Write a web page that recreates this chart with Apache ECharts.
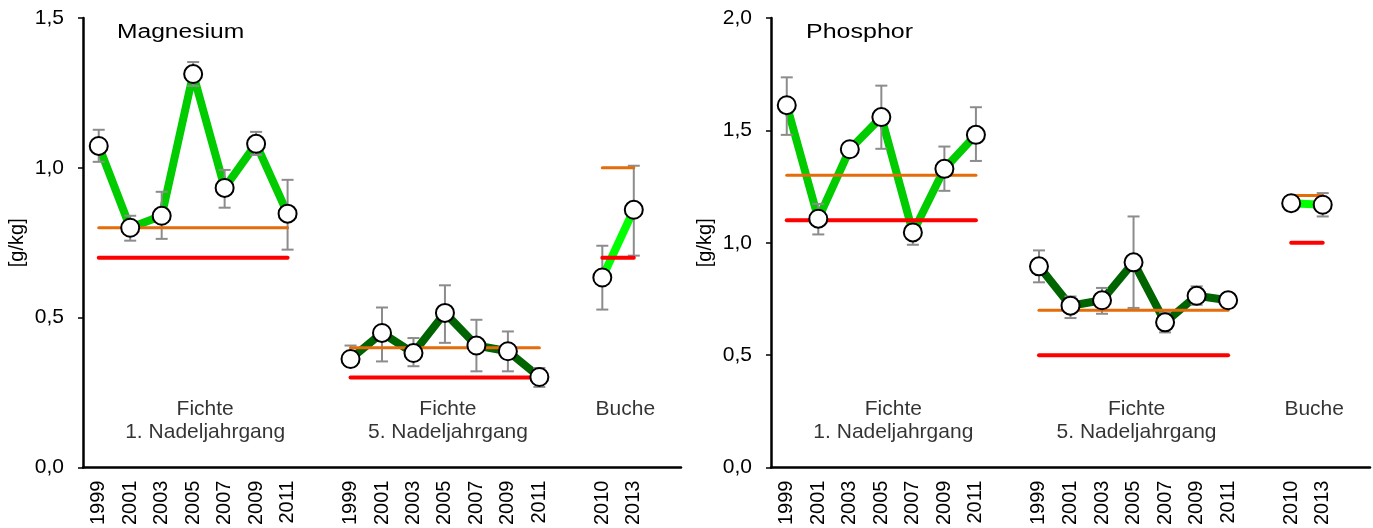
<!DOCTYPE html>
<html><head><meta charset="utf-8">
<script src="https://cdn.jsdelivr.net/npm/echarts@6/dist/echarts.min.js"></script>
<style>html,body{margin:0;padding:0;background:#fff}#c{width:1373px;height:528px}</style>
</head><body><div id="c"></div>
<script>
// ---- categories (19 slots: 7 + gap + 7 + gap + 2 + gap)
const yearsF = ['1999','2001','2003','2005','2007','2009','2011'];
const yearsB = ['2010','2013'];
const groupLabels = ['Fichte\n1. Nadeljahrgang', 'Fichte\n5. Nadeljahrgang', 'Buche'];
const panelTitles = ['Magnesium', 'Phosphor'];
const mgTicks = [0, 0.5, 1.0, 1.5];
const pTicks = [0, 0.5, 1.0, 1.5, 2.0];

// ---- Magnesium [g/kg]
const mgF1 = [1.073, 0.80, 0.84, 1.313, 0.933, 1.08, 0.847];
const mgF1Hi = [1.127, 0.84, 0.92, 1.353, 0.993, 1.12, 0.96];
const mgF1Lo = [1.02, 0.757, 0.763, 1.273, 0.867, 1.043, 0.727];
const mgF5 = [0.362, 0.449, 0.382, 0.516, 0.407, 0.388, 0.302];
const mgF5Hi = [0.407, 0.534, 0.432, 0.608, 0.493, 0.454, 0.332];
const mgF5Lo = [0.338, 0.354, 0.338, 0.416, 0.321, 0.321, 0.269];
const mgBu = [0.634, 0.86];
const mgBuHi = [0.74, 1.007];
const mgBuLo = [0.527, 0.707];
const mgOrange = [0.80, 0.40, 1.00];
const mgRed = [0.70, 0.30, 0.70];

// ---- Phosphor [g/kg]
const pF1 = [1.612, 1.107, 1.416, 1.559, 1.046, 1.329, 1.48];
const pF1Hi = [1.736, 1.173, 1.44, 1.699, 1.10, 1.428, 1.603];
const pF1Lo = [1.48, 1.037, 1.39, 1.418, 0.991, 1.231, 1.364];
const pF5 = [0.895, 0.72, 0.744, 0.913, 0.646, 0.764, 0.744];
const pF5Hi = [0.966, 0.761, 0.799, 1.117, 0.69, 0.806, 0.776];
const pF5Lo = [0.824, 0.665, 0.684, 0.71, 0.601, 0.724, 0.712];
const pBu = [1.176, 1.169];
const pBuHi = [1.19, 1.221];
const pBuLo = [1.16, 1.117];
const pOrange = [1.30, 0.70, 1.21];
const pRed = [1.10, 0.50, 1.00];

// ---- layout helpers
const OFF = [0, 8, 16];
const LABEL_IDX = [3, 11, 16];
const LABEL_DX = [12, 3, 23];
const cats = [...yearsF, '', ...yearsF, '', ...yearsB, ''];
const FONT = "'Liberation Sans', Arial, sans-serif";
const C_F1 = '#00cc00', C_F5 = '#006400', C_BU = '#00ff00';
const C_OR = '#e46c0a', C_RED = '#ff0000', C_ERR = '#8c8c8c';

function pts(vals, off) { return vals.map((v, i) => [off + i, v]); }
function errs(lo, hi, off) { return lo.map((l, i) => [off + i, l, hi[i]]); }

function panel(gi, groups, orange, red, labelY, buLabelY) {
  const s = [];
  const colors = [C_F1, C_F5, C_BU];
  groups.forEach((g, k) => {
    s.push({ type: 'line', xAxisIndex: gi, yAxisIndex: gi, data: pts(g.v, OFF[k]),
      showSymbol: false, symbol: 'none', z: 2, silent: true,
      lineStyle: { color: colors[k], width: 8, join: 'round' } });
    s.push({ type: 'custom', xAxisIndex: gi, yAxisIndex: gi, z: 3, silent: true,
      data: errs(g.lo, g.hi, OFF[k]), encode: { x: 0, y: [1, 2] },
      renderItem: function (params, api) {
        const x = api.value(0);
        const a = api.coord([x, api.value(1)]);
        const b = api.coord([x, api.value(2)]);
        const st = { stroke: C_ERR, lineWidth: 2 };
        return { type: 'group', children: [
          { type: 'line', shape: { x1: a[0], y1: a[1], x2: b[0], y2: b[1] }, style: st },
          { type: 'line', shape: { x1: a[0] - 6, y1: a[1], x2: a[0] + 6, y2: a[1] }, style: st },
          { type: 'line', shape: { x1: b[0] - 6, y1: b[1], x2: b[0] + 6, y2: b[1] }, style: st }
        ] };
      } });
    const n = g.v.length - 1;
    s.push({ type: 'line', xAxisIndex: gi, yAxisIndex: gi, z: 4, silent: true, symbol: 'none',
      data: [[OFF[k], orange[k]], [OFF[k] + n, orange[k]]],
      lineStyle: { color: C_OR, width: 3, cap: 'round' } });
    s.push({ type: 'line', xAxisIndex: gi, yAxisIndex: gi, z: 4, silent: true, symbol: 'none',
      data: [[OFF[k], red[k]], [OFF[k] + n, red[k]]],
      lineStyle: { color: C_RED, width: 4, cap: 'round' } });
    s.push({ type: 'scatter', xAxisIndex: gi, yAxisIndex: gi, z: 5, silent: true,
      data: pts(g.v, OFF[k]), symbol: 'circle', symbolSize: 18,
      itemStyle: { color: '#fff', borderColor: '#000', borderWidth: 2, opacity: 1 } });
  });
  groupLabels.forEach((txt, k) => {
    s.push({ type: 'scatter', xAxisIndex: gi, yAxisIndex: gi, z: 6, silent: true, symbolSize: 0,
      data: [[LABEL_IDX[k], k === 2 ? buLabelY : labelY]],
      label: { show: true, position: 'inside', offset: [LABEL_DX[k], 0], formatter: () => txt,
        fontFamily: FONT, fontSize: 21, lineHeight: 23, color: '#000', align: 'center', verticalAlign: 'middle' } });
  });
  return s;
}

function yAx(gi, max) {
  return { type: 'value', gridIndex: gi, min: 0, max: max, interval: 0.5,
    name: '[g/kg]', nameLocation: 'middle', nameGap: 56, nameRotate: 90,
    nameTextStyle: { fontFamily: FONT, fontSize: 20, color: '#000' },
    axisLine: { show: true, lineStyle: { color: '#000', width: 2.5 } },
    axisTick: { show: true, length: 5, lineStyle: { color: '#000', width: 1.5 } },
    splitLine: { show: false },
    axisLabel: { fontFamily: FONT, fontSize: 21, color: '#000', margin: 19,
      formatter: v => v.toFixed(1).replace('.', ',') } };
}
function xAx(gi) {
  return { type: 'category', gridIndex: gi, data: cats, boundaryGap: true,
    axisLine: { show: true, lineStyle: { color: '#000', width: 2.5 } },
    axisTick: { show: false },
    axisLabel: { interval: 0, rotate: 90, fontFamily: FONT, fontSize: 20, color: '#000', margin: 13 } };
}

const chart = echarts.init(document.getElementById('c'), null, { renderer: 'canvas' });
chart.setOption({
  animation: false,
  backgroundColor: '#fff',
  graphic: [
    { type: 'text', x: 117, y: 32, scaleX: 1.23, z: 10, silent: true,
      style: { text: panelTitles[0], font: "20px 'Liberation Sans', Arial, sans-serif", fill: '#000', verticalAlign: 'middle' } },
    { type: 'text', x: 806, y: 32, scaleX: 1.25, z: 10, silent: true,
      style: { text: panelTitles[1], font: "20px 'Liberation Sans', Arial, sans-serif", fill: '#000', verticalAlign: 'middle' } }
  ],
  grid: [
    { left: 83, top: 18, width: 598, height: 450 },
    { left: 771, top: 18, width: 599, height: 450 }
  ],
  xAxis: [xAx(0), xAx(1)],
  yAxis: [yAx(0, mgTicks[mgTicks.length - 1]), yAx(1, pTicks[pTicks.length - 1])],
  series: [
    ...panel(0, [
      { v: mgF1, lo: mgF1Lo, hi: mgF1Hi },
      { v: mgF5, lo: mgF5Lo, hi: mgF5Hi },
      { v: mgBu, lo: mgBuLo, hi: mgBuHi }], mgOrange, mgRed, 0.155, 0.193),
    ...panel(1, [
      { v: pF1, lo: pF1Lo, hi: pF1Hi },
      { v: pF5, lo: pF5Lo, hi: pF5Hi },
      { v: pBu, lo: pBuLo, hi: pBuHi }], pOrange, pRed, 0.207, 0.258)
  ]
});
</script></body></html>
